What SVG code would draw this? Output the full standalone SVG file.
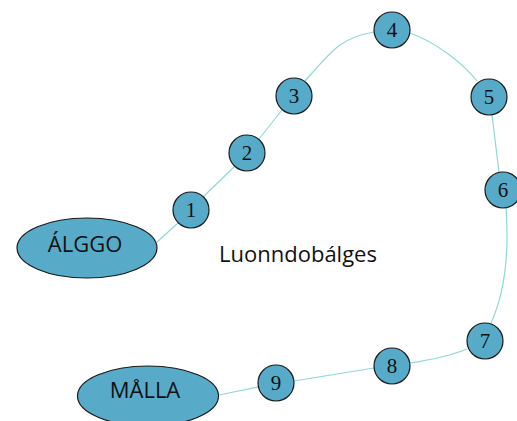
<svg xmlns="http://www.w3.org/2000/svg" width="517" height="421" viewBox="0 0 517 421">
<style>
.n{fill:#57abc9;stroke:#1a1a1a;stroke-width:1.2}
.num{font-family:"Liberation Serif",serif;font-size:21px;text-anchor:middle;fill:#111}
.lbl{font-family:"Open Sans","Liberation Sans",sans-serif;font-size:22px;text-anchor:middle;fill:#111}
.c{fill:none;stroke:#8fd8d4;stroke-width:1.2}
</style>
<rect width="517" height="421" fill="#fff"/>
<g id="connectors">
<path class="c" d="M157,242 L178,223"/>
<path class="c" d="M203,197 L235,166"/>
<path class="c" d="M259,139 L282,110"/>
<path class="c" d="M305,81 C320,64 330,52 340,45 C350,38 362,34 374,32"/>
<path class="c" d="M410,33 C435,42 462,62 477,81"/>
<path class="c" d="M492,115 L499,172"/>
<path class="c" d="M506,208 C509,250 506,290 491,323"/>
<path class="c" d="M467,349 C450,356 430,360 410,363"/>
<path class="c" d="M374,368 L294,381"/>
<path class="c" d="M258,387 L219,395"/>
</g>
<g id="algo"><ellipse class="n" cx="87" cy="248" rx="70" ry="30"/><text class="lbl" x="85" y="252">ÁLGGO</text></g>
<g id="malla"><ellipse class="n" cx="148" cy="396" rx="70.5" ry="30"/><text class="lbl" x="145" y="398">MÅLLA</text></g>
<g id="n1"><circle class="n" cx="191" cy="210" r="18"/><text class="num" x="191" y="217">1</text></g>
<g id="n2"><circle class="n" cx="247" cy="153" r="18"/><text class="num" x="247" y="160">2</text></g>
<g id="n3"><circle class="n" cx="294" cy="96" r="18"/><text class="num" x="294" y="103">3</text></g>
<g id="n4"><circle class="n" cx="392" cy="30" r="18"/><text class="num" x="392" y="37">4</text></g>
<g id="n5"><circle class="n" cx="489" cy="97" r="18"/><text class="num" x="489" y="104">5</text></g>
<g id="n6"><circle class="n" cx="503" cy="190" r="18"/><text class="num" x="503" y="197">6</text></g>
<g id="n7"><circle class="n" cx="485" cy="341" r="18"/><text class="num" x="485" y="348">7</text></g>
<g id="n8"><circle class="n" cx="392" cy="366" r="18"/><text class="num" x="392" y="373">8</text></g>
<g id="n9"><circle class="n" cx="276" cy="383" r="18"/><text class="num" x="276" y="390">9</text></g>
<text class="lbl" x="298" y="262">Luonndobálges</text>
</svg>
